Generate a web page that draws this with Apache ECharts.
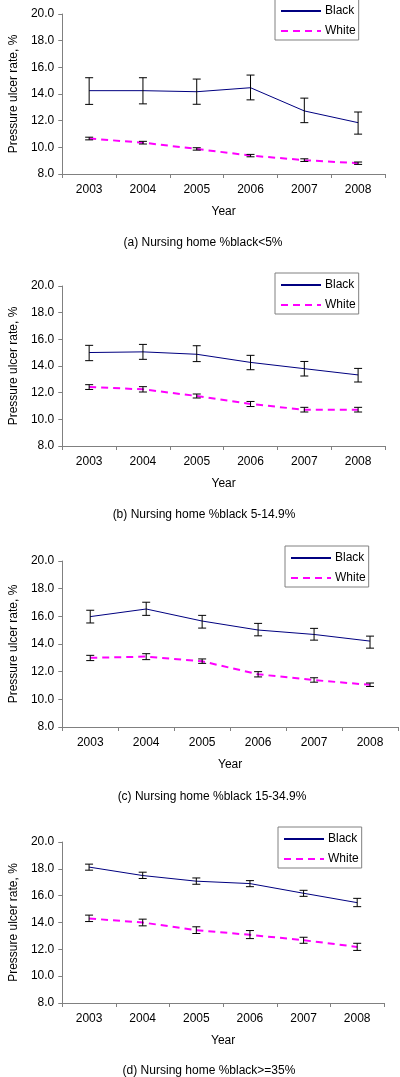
<!DOCTYPE html>
<html>
<head>
<meta charset="utf-8">
<script src="https://cdn.jsdelivr.net/npm/echarts@6/dist/echarts.min.js"></script>
<style>html,body{margin:0;padding:0;background:#fff;}#c{width:400px;height:1077px;}</style>
</head>
<body>
<div id="c"></div>
<script>
var years = ['2003','2004','2005','2006','2007','2008'];
var yTicks = [8, 10, 12, 14, 16, 18, 20];
var captions = ['(a) Nursing home %black<5%', '(b) Nursing home %black 5-14.9%', '(c) Nursing home %black 15-34.9%', '(d) Nursing home %black>=35%'];

// Panel (a)
var aBlack   = [14.25, 14.25, 14.17, 14.47, 12.73, 11.85];
var aBlackLo = [13.22, 13.26, 13.23, 13.56, 11.85, 10.99];
var aBlackHi = [15.22, 15.22, 15.12, 15.42, 13.69, 12.65];
var aWhite   = [10.66, 10.35, 9.88, 9.38, 9.04, 8.81];
var aWhiteLo = [10.56, 10.25, 9.79, 9.29, 8.94, 8.72];
var aWhiteHi = [10.76, 10.45, 9.97, 9.47, 9.14, 8.90];
// Panel (b)
var bBlack   = [15.01, 15.06, 14.88, 14.27, 13.80, 13.33];
var bBlackLo = [14.40, 14.50, 14.33, 13.72, 13.25, 12.80];
var bBlackHi = [15.55, 15.62, 15.52, 14.80, 14.34, 13.82];
var bWhite   = [12.42, 12.25, 11.75, 11.15, 10.72, 10.72];
var bWhiteLo = [12.24, 12.05, 11.60, 10.96, 10.55, 10.55];
var bWhiteHi = [12.60, 12.45, 11.90, 11.34, 10.90, 10.90];
// Panel (c)
var cBlack   = [15.98, 16.53, 15.66, 15.01, 14.69, 14.21];
var cBlackLo = [15.52, 16.07, 15.15, 14.59, 14.28, 13.70];
var cBlackHi = [16.44, 17.02, 16.07, 15.49, 15.13, 14.57];
var cWhite   = [13.00, 13.09, 12.75, 11.81, 11.39, 11.05];
var cWhiteLo = [12.80, 12.87, 12.60, 11.62, 11.24, 10.93];
var cWhiteHi = [13.18, 13.30, 12.92, 12.00, 11.56, 11.18];
// Panel (d)
var dBlack   = [18.13, 17.50, 17.08, 16.90, 16.18, 15.48];
var dBlackLo = [17.90, 17.28, 16.85, 16.67, 15.95, 15.18];
var dBlackHi = [18.35, 17.75, 17.32, 17.12, 16.40, 15.80];
var dWhite   = [14.30, 14.00, 13.43, 13.08, 12.68, 12.18];
var dWhiteLo = [14.07, 13.75, 13.18, 12.80, 12.45, 11.92];
var dWhiteHi = [14.55, 14.25, 13.68, 13.40, 12.90, 12.45];

var panels = [
  {black:aBlack, blo:aBlackLo, bhi:aBlackHi, white:aWhite, wlo:aWhiteLo, whi:aWhiteHi},
  {black:bBlack, blo:bBlackLo, bhi:bBlackHi, white:bWhite, wlo:bWhiteLo, whi:bWhiteHi},
  {black:cBlack, blo:cBlackLo, bhi:cBlackHi, white:cWhite, wlo:cWhiteLo, whi:cWhiteHi},
  {black:dBlack, blo:dBlackLo, bhi:dBlackHi, white:dWhite, wlo:dWhiteLo, whi:dWhiteHi}
];

var layout = [
  {left:50, top:14,  width:335, height:160, legLeft:275, legTop:-1,  capY:243},
  {left:50, top:286, width:335, height:160, legLeft:275, legTop:273, capY:515},
  {left:52, top:561, width:346, height:166, legLeft:285, legTop:546, capY:797},
  {left:49, top:842, width:335, height:161, legLeft:278, legTop:827, capY:1071}
];
var capX = [203, 204, 212, 209];

var FONT = 'Liberation Sans, Arial, sans-serif';
var grids = [], xAxes = [], yAxes = [], series = [], legends = [], graphics = [];

function errRender(params, api) {
  var x = api.value(0);
  var lo = api.coord([x, api.value(1)]);
  var hi = api.coord([x, api.value(2)]);
  var w = 4;
  var st = {stroke:'#000', lineWidth:1};
  return {type:'group', children:[
    {type:'line', shape:{x1:lo[0], y1:lo[1], x2:hi[0], y2:hi[1]}, style:st},
    {type:'line', shape:{x1:lo[0]-w, y1:lo[1], x2:lo[0]+w, y2:lo[1]}, style:st},
    {type:'line', shape:{x1:hi[0]-w, y1:hi[1], x2:hi[0]+w, y2:hi[1]}, style:st}
  ]};
}

layout.forEach(function(L, i) {
  var P = panels[i];
  grids.push({left:L.left, top:L.top, width:L.width, height:L.height});
  xAxes.push({
    type:'category', gridIndex:i, data:years, boundaryGap:true,
    name:'Year', nameLocation:'middle', nameGap:32,
    nameTextStyle:{fontFamily:FONT, fontSize:12, color:'#000'},
    axisLine:{lineStyle:{color:'#808080', width:1}},
    axisTick:{show:true, length:4, lineStyle:{color:'#808080'}},
    axisLabel:{fontFamily:FONT, fontSize:12, color:'#000', margin:10},
    splitLine:{show:false}
  });
  yAxes.push({
    type:'value', gridIndex:i, min:yTicks[0], max:yTicks[yTicks.length-1], interval:2,
    name:'Pressure ulcer rate, %', nameLocation:'middle', nameGap:35,
    nameTextStyle:{fontFamily:FONT, fontSize:12, color:'#000'},
    axisLine:{show:true, lineStyle:{color:'#808080', width:1}},
    axisTick:{show:true, length:4, lineStyle:{color:'#808080'}},
    axisLabel:{fontFamily:FONT, fontSize:12, color:'#000', margin:8,
      formatter:function(v){return v.toFixed(1);}},
    splitLine:{show:false}
  });
  series.push({
    name:'Black', type:'line', xAxisIndex:i, yAxisIndex:i, data:P.black,
    symbol:'none', smooth:false, lineStyle:{color:'#000080', width:1, type:'solid'},
    itemStyle:{color:'#000080'}, z:2
  });
  series.push({
    name:'White', type:'line', xAxisIndex:i, yAxisIndex:i, data:P.white,
    symbol:'none', lineStyle:{color:'#FF00FF', width:2, type:[7,5]},
    itemStyle:{color:'#FF00FF'}, z:2
  });
  var bData = years.map(function(y, k){ return [k, P.blo[k], P.bhi[k]]; });
  var wData = years.map(function(y, k){ return [k, P.wlo[k], P.whi[k]]; });
  series.push({type:'custom', xAxisIndex:i, yAxisIndex:i, renderItem:errRender, data:bData, encode:{x:0, y:[1,2]}, z:3, silent:true});
  series.push({type:'custom', xAxisIndex:i, yAxisIndex:i, renderItem:errRender, data:wData, encode:{x:0, y:[1,2]}, z:3, silent:true});
  legends.push({
    data:['Black','White'], orient:'vertical', left:L.legLeft, top:L.legTop,
    itemWidth:40, itemHeight:13, itemGap:8, padding:[6,3,3,5],
    borderColor:'#808080', borderWidth:1, backgroundColor:'#fff',
    itemStyle:{opacity:0},
    textStyle:{fontFamily:FONT, fontSize:12, color:'#000', padding:[0,0,0,-1]},
    selectedMode:false
  });
  graphics.push({
    type:'text', x:capX[i], y:L.capY,
    style:{text:captions[i], fontFamily:FONT, fontSize:12, fill:'#000', textAlign:'center', textVerticalAlign:'middle'}
  });
});

var chart = echarts.init(document.getElementById('c'), null, {renderer:'canvas'});
chart.setOption({
  animation:false,
  backgroundColor:'#fff',
  grid:grids, xAxis:xAxes, yAxis:yAxes, series:series, legend:legends, graphic:graphics
});
</script>
</body>
</html>
